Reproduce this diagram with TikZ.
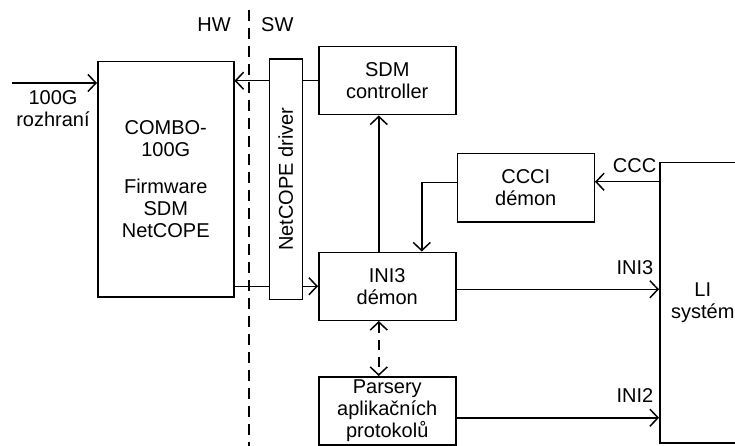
\documentclass[tikz,border=0pt]{standalone}
\usepackage{fontspec}
\setmainfont{Liberation Sans}
\usetikzlibrary{positioning,calc,arrows.meta}

\begin{document}
\begin{tikzpicture}[
  x=1pt, y=-1pt,
  node distance=20pt and 20pt,
  blk/.style={
    rectangle, draw=black, line width=1.5pt, inner sep=0pt,
    minimum width=137pt, minimum height=68pt,
    align=center, font=\fontsize{20}{22}\selectfont
  },
  tallblk/.style={
    blk, minimum width=136pt, minimum height=235pt
  },
  drvblk/.style={
    blk, minimum width=33pt, minimum height=240pt
  },
  lbl/.style={
    inner sep=0pt, align=center, font=\fontsize{20}{22}\selectfont
  },
  arr/.style={draw=black, -{Straight Barb[length=8pt,width=17pt]}, line width=1.5pt},
  plain/.style={draw=black, line width=1.5pt},
  darr/.style={draw=black, {Straight Barb[length=8pt,width=17pt]}-{Straight Barb[length=8pt,width=17pt]},
    line width=1.5pt, dash pattern=on 10pt off 7pt},
  divline/.style={draw=black, line width=1.5pt, dash pattern=on 11pt off 7pt}
]
\useasboundingbox (0,0) rectangle (735,446);

%% HW / SW divider
\coordinate (divtop) at (249,10);
\coordinate (divbot) at (249,446);
\draw[divline] (divtop) -- (divbot);
\node[lbl, anchor=base east] (hw) at (231,32) {HW};
\node[lbl, anchor=base west] (sw) at (261,32) {SW};

%% Hardware
\node[tallblk, anchor=north west] (combo) at (97,61)
  {COMBO-\\100G\\[15pt]Firmware\\SDM\\NetCOPE};
\node[drvblk, right=34pt of combo] (drv) {};
\node[lbl, rotate=90] (drvtxt) at (drv.center) {NetCOPE driver};

%% Software blocks
\node[blk, anchor=north west] (sdm) at (318,46) {SDM\\controller};
\node[blk, below=136pt of sdm] (ini3) {INI3\\démon};
\node[blk, below=55pt of ini3] (pars) {Parsery\\aplikačních\\protokolů};
\node[blk, above right=29pt and 0pt of ini3] (ccci) {CCCI\\démon};

%% LI system
\node[blk, anchor=north west, minimum width=86pt, minimum height=280pt] (li) at (659,162)
  {LI\\systém};

%% Input
\coordinate (in) at (12,83);
\draw[arr] (in) -- (in -| combo.west);
\node[lbl, anchor=north] (inlbl) at (53,90) {100G\\rozhraní};

%% Arrows
\draw[plain] (sdm.west) -- (sdm.west -| drv.east);
\draw[arr] (sdm.west -| drv.west) -- (sdm.west -| combo.east);
\draw[plain] (ini3.west -| combo.east) -- (ini3.west -| drv.west);
\draw[arr] (ini3.west -| drv.east) -- (ini3.west);
\draw[arr] ([xshift=-8.5pt]ini3.north) -- ([xshift=-8.5pt]ini3.north |- sdm.south);
\draw[arr] ([yshift=5pt]ccci.west) -| ([xshift=34.5pt]ini3.north);
\draw[darr] ([xshift=-8.5pt]ini3.south) -- ([xshift=-8.5pt]pars.north);
\draw[arr] ([yshift=6pt]ccci.east -| li.west) --
  node[lbl, pos=0, anchor=south east, xshift=-2pt, yshift=8pt] (ccc) {CCC}
  ([yshift=6pt]ccci.east);
\draw[arr] ([yshift=-3pt]ini3.east) --
  node[lbl, pos=1, anchor=south east, xshift=-5pt, yshift=14pt] (ini3lbl) {INI3}
  ([yshift=-3pt]ini3.east -| li.west);
\draw[arr] ([yshift=-7pt]pars.east) --
  node[lbl, pos=1, anchor=south east, xshift=-5pt, yshift=15pt] (ini2lbl) {INI2}
  ([yshift=-7pt]pars.east -| li.west);

\end{tikzpicture}
\end{document}
